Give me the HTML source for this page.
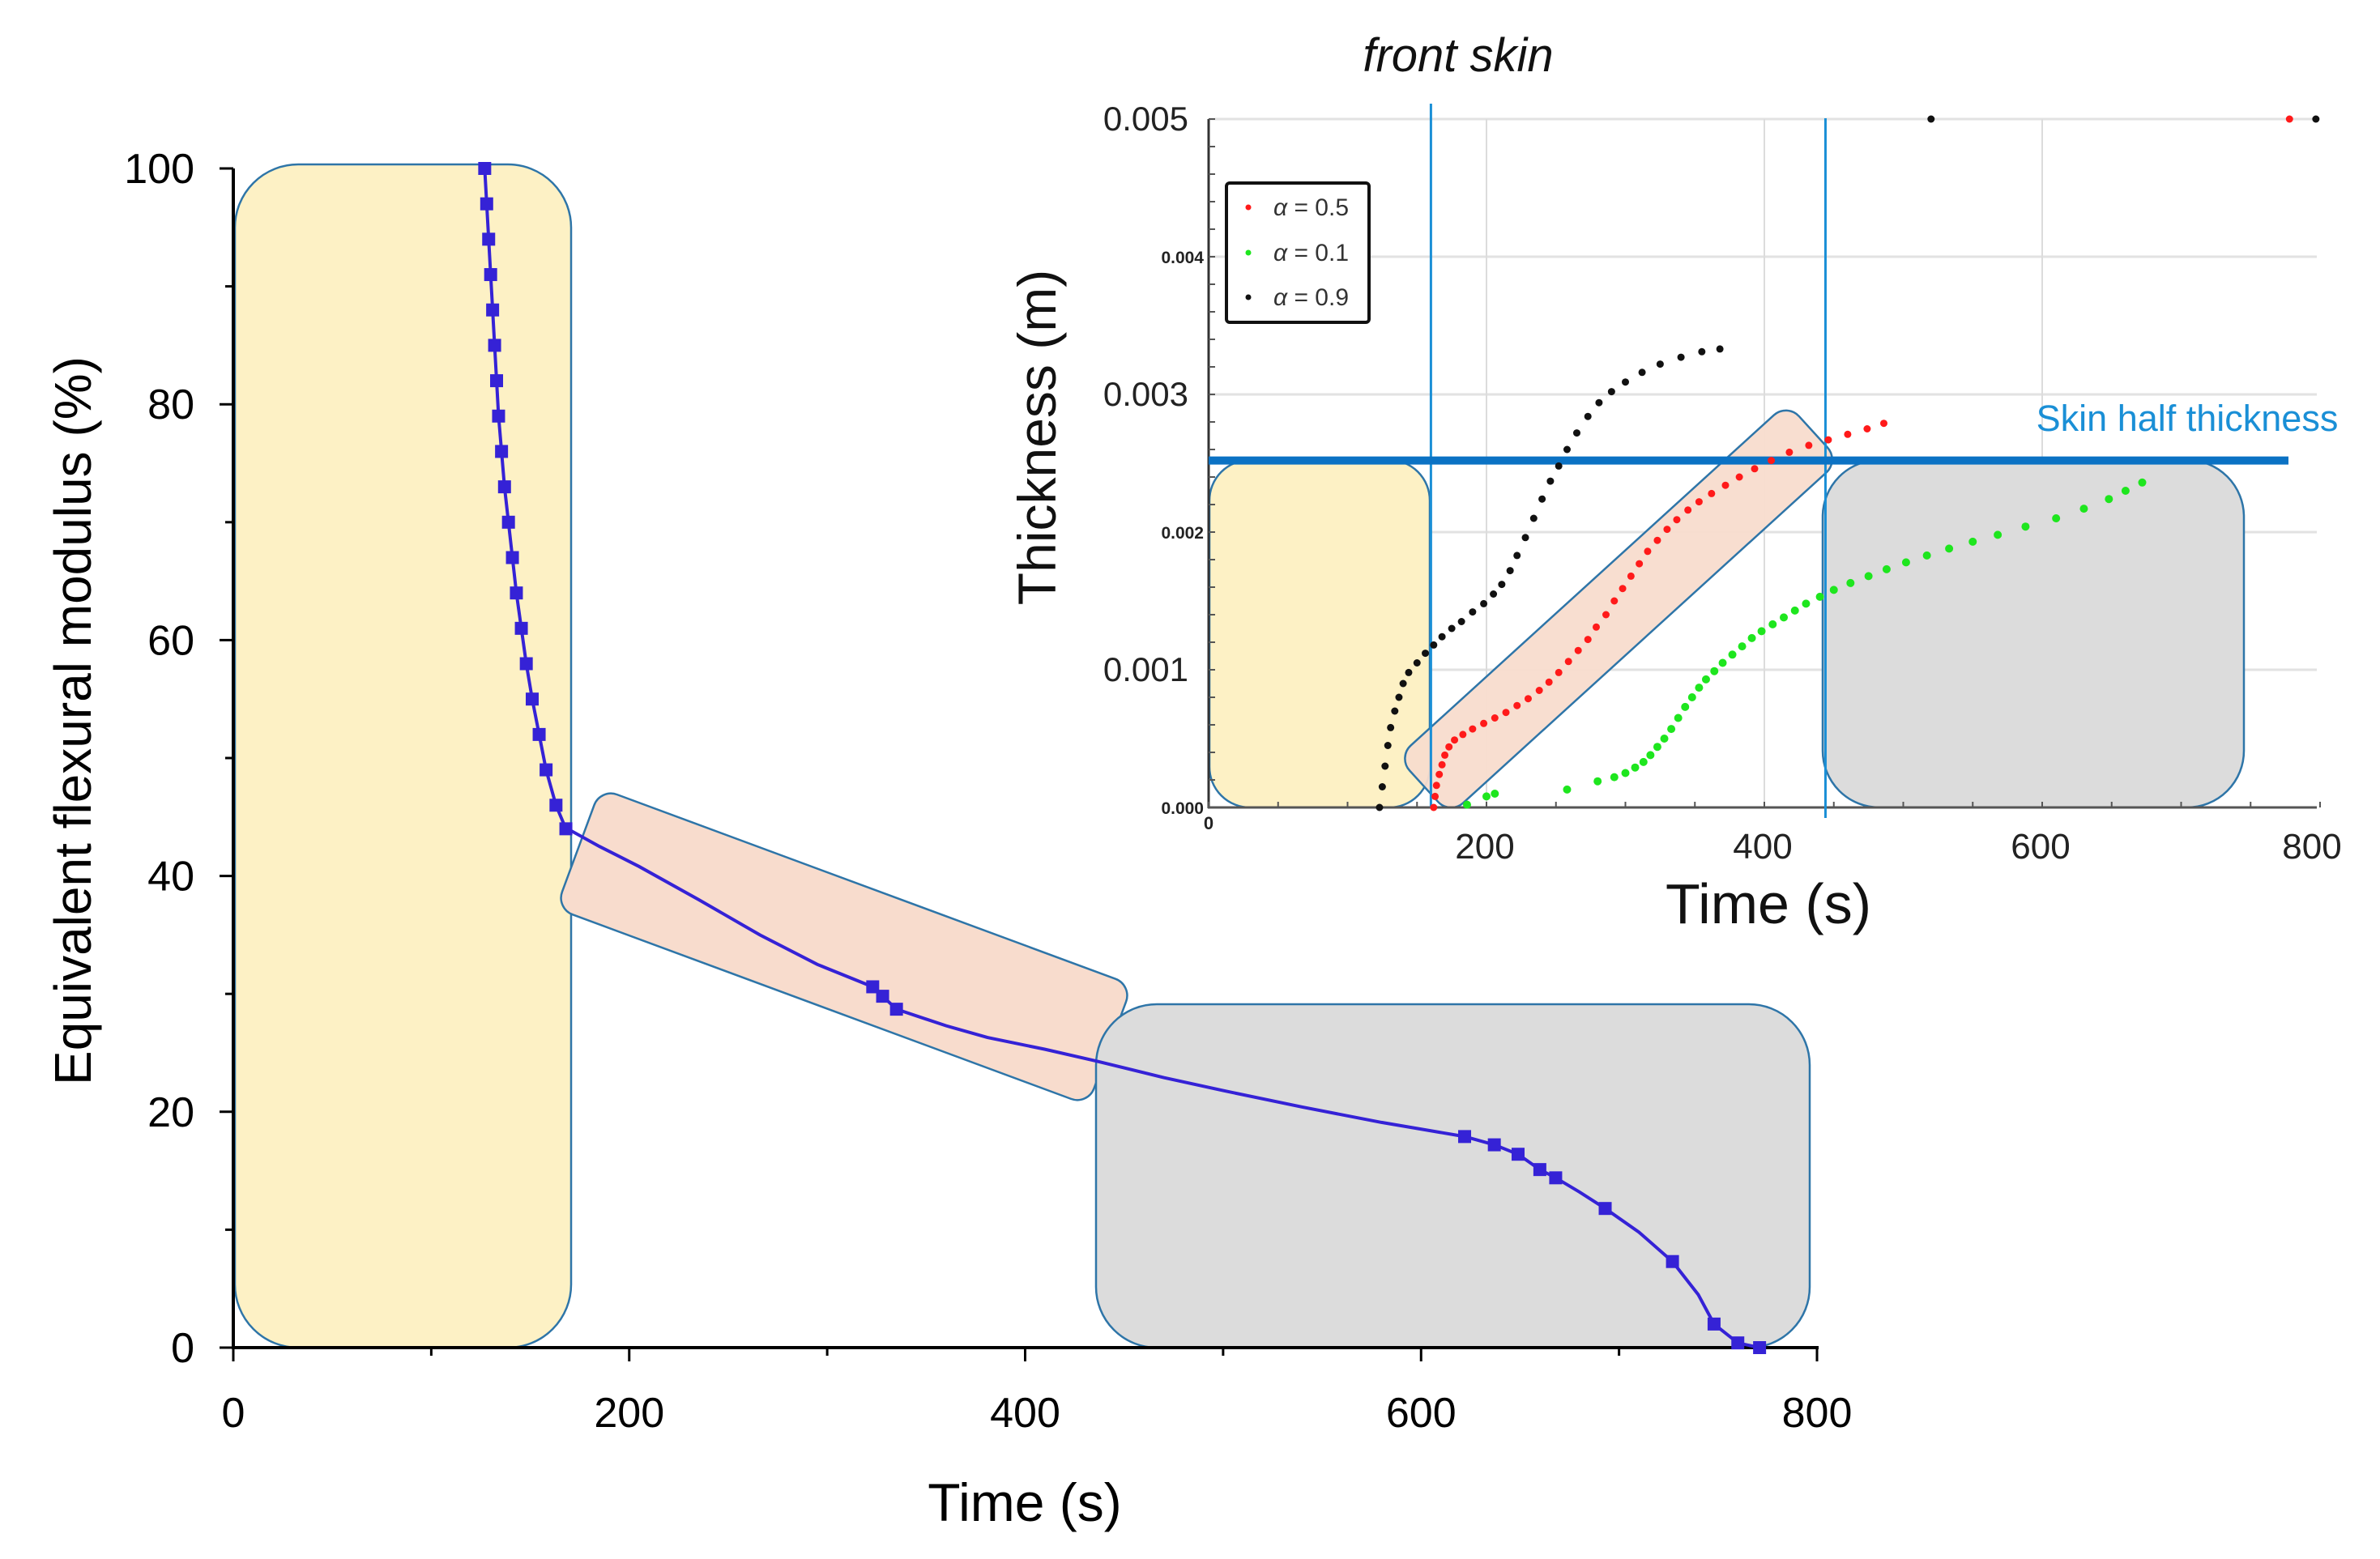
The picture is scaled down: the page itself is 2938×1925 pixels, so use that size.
<!DOCTYPE html>
<html><head><meta charset="utf-8"><style>
html,body{margin:0;padding:0;background:#fff}
svg{display:block}
text{font-family:"Liberation Sans",sans-serif}
</style></head><body>
<svg id="chart" width="2938" height="1925" viewBox="0 0 2938 1925" xmlns="http://www.w3.org/2000/svg">
<g id="main"></g>
<g id="inset"></g>
</svg>
<script>
// ---- main chart data ----
const mainTimes = [127,128,129,130,131,132,133,134,135.5,137,139,141,143,145.5,148,151,154.5,158,163,168,171,185,205,235,266,295,323,328,335,360,381,410,436,470,500,540,580,622,637,649,660,668,680,693,710,727,740,748,760,771];
const mainValues = [100,97,94,91,88,85,82,79,76,73,70,67,64,61,58,55,52,49,46,44,43.8,42.5,40.8,38,35,32.5,30.6,29.8,28.7,27.3,26.3,25.3,24.3,22.9,21.8,20.4,19.1,17.9,17.2,16.4,15.1,14.4,13.2,11.8,9.8,7.3,4.5,2.0,0.4,0];
const mainMarker = [1,1,1,1,1,1,1,1,1,1,1,1,1,1,1,1,1,1,1,1,0,0,0,0,0,0,1,1,1,0,0,0,0,0,0,0,0,1,1,1,1,1,0,1,0,1,0,1,1,1];
const mainXTicks = [0,200,400,600,800];
const mainYTicks = [0,20,40,60,80,100];
// ---- inset data (thickness in mm; axis labels in m) ----
const blackT = [123,125,127,129,131,134,137,140,144,150,156,162,168,175,182,190,198,205,211,217,222,228,234,240,246,252,258,265,273,281,290,300,312,325,340,355,368,520,797];
const blackY = [0,0.15,0.3,0.45,0.58,0.7,0.8,0.9,0.98,1.05,1.12,1.18,1.24,1.3,1.35,1.42,1.48,1.55,1.62,1.72,1.83,1.96,2.1,2.24,2.37,2.48,2.6,2.72,2.84,2.94,3.02,3.09,3.16,3.22,3.27,3.31,3.33,5,5];
const redT = [162,163,164,166,168,170,173,177,183,190,198,206,214,222,230,238,245,252,259,266,273,279,286,292,298,304,310,316,323,330,337,345,353,362,372,382,393,405,418,432,446,460,474,486,778];
const redY = [0,0.08,0.16,0.24,0.31,0.38,0.44,0.49,0.53,0.57,0.61,0.65,0.69,0.74,0.79,0.85,0.91,0.98,1.06,1.14,1.22,1.31,1.4,1.5,1.59,1.68,1.77,1.86,1.94,2.02,2.09,2.16,2.22,2.28,2.34,2.4,2.46,2.52,2.58,2.63,2.67,2.71,2.75,2.79,5];
const greenT = [186,200,206,258,280,292,300,307,313,318,323,328,333,338,343,348,353,358,364,370,377,384,391,398,406,414,422,430,440,450,462,475,488,502,517,533,550,568,588,610,630,648,660,672];
const greenY = [0.02,0.08,0.1,0.13,0.19,0.22,0.25,0.29,0.33,0.38,0.44,0.5,0.57,0.65,0.73,0.8,0.87,0.93,0.99,1.05,1.11,1.17,1.23,1.28,1.33,1.38,1.43,1.48,1.53,1.58,1.63,1.68,1.73,1.78,1.83,1.88,1.93,1.98,2.04,2.1,2.17,2.24,2.3,2.36];
const insetXTicks = [200,400,600,800];
const insetYTicks = [0,1,2,3,4,5];
const insetYLabels = ["0.000","0.001","0.002","0.003","0.004","0.005"];
const skinHalf = 2.52;
const frontLines = [160,444];

const NS="http://www.w3.org/2000/svg";
function mk(parent,tag,attrs){const e=document.createElementNS(NS,tag);for(const k in attrs)e.setAttribute(k,attrs[k]);parent.appendChild(e);return e;}
function txt(parent,x,y,s,attrs){const e=mk(parent,'text',Object.assign({x:x,y:y},attrs));e.textContent=s;return e;}

// ---------- MAIN ----------
const M=document.getElementById('main');
const mx=t=>288+t*(2243-288)/800;
const my=v=>1664-v*(1664-208)/100;
const boxStroke='#2e75a8';
let e;
e=mk(M,'rect',{x:290,y:203,width:415,height:1461,rx:78,fill:'#fdf1c5',stroke:boxStroke,'stroke-width':2.5});


e=mk(M,'rect',{x:1042-350,y:1169-79,width:700,height:158,rx:22,fill:'#f8dccd',stroke:boxStroke,'stroke-width':2.5,transform:'rotate(20.3 1042 1169)'});


e=mk(M,'rect',{x:1353,y:1240,width:881,height:424,rx:75,fill:'#dcdcdc',stroke:boxStroke,'stroke-width':2.5});


// axes
e=mk(M,'line',{x1:288,y1:208,x2:288,y2:1666,stroke:'#000','stroke-width':4});


e=mk(M,'line',{x1:286,y1:1664,x2:2245,y2:1664,stroke:'#000','stroke-width':4});


for(let v=0;v<=100;v+=10){const maj=v%20===0;mk(M,'line',{x1:288-(maj?17:10),y1:my(v),x2:288,y2:my(v),stroke:'#000','stroke-width':3});}
for(let t=0;t<=800;t+=100){const maj=t%200===0;mk(M,'line',{x1:mx(t),y1:1664,x2:mx(t),y2:1664+(maj?17:10),stroke:'#000','stroke-width':3});}
mainYTicks.forEach(v=>{const el=txt(M,240,my(v)+18,String(v),{'font-size':52,'text-anchor':'end',fill:'#000'});

});
mainXTicks.forEach(t=>{const el=txt(M,mx(t),1762,String(t),{'font-size':52,'text-anchor':'middle',fill:'#000'});

});
e=txt(M,1265,1878,'Time (s)',{'font-size':66,'text-anchor':'middle',fill:'#000'});


e=txt(M,0,0,'Equivalent flexural modulus (%)',{'font-size':64,'text-anchor':'middle',fill:'#000',transform:'translate(112 890) rotate(-90)'});


// curve
const pts=mainTimes.map((t,i)=>mx(t)+','+my(mainValues[i])).join(' ');
e=mk(M,'polyline',{points:pts,fill:'none',stroke:'#3522d6','stroke-width':4});


mainTimes.forEach((t,i)=>{if(!mainMarker[i])return;const r=mk(M,'rect',{x:mx(t)-8,y:my(mainValues[i])-8,width:16,height:16,fill:'#3522d6'});

});

// ---------- INSET ----------
const I=document.getElementById('inset');
const ix=t=>1492+t*343/200;
const iy=v=>997-v*170;
// grid
insetYTicks.forEach(v=>{if(v>0)mk(I,'line',{x1:1492,y1:iy(v),x2:2860,y2:iy(v),stroke:'#e2e2e2','stroke-width':3});});
insetXTicks.forEach(t=>{if(t<800)mk(I,'line',{x1:ix(t),y1:iy(5),x2:ix(t),y2:997,stroke:'#dcdcdc','stroke-width':2});});
// regions
e=mk(I,'rect',{x:1493,y:568,width:272,height:429,rx:50,fill:'#fdf1c5',stroke:boxStroke,'stroke-width':2.5});


e=mk(I,'rect',{x:1998-325,y:752-48,width:650,height:96,rx:22,fill:'#f8dccd','fill-opacity':0.95,stroke:boxStroke,'stroke-width':2.5,transform:'rotate(-42.3 1998 752)'});


e=mk(I,'rect',{x:2250,y:568,width:520,height:429,rx:70,fill:'#dcdcdc',stroke:boxStroke,'stroke-width':2.5});


// axes
e=mk(I,'line',{x1:1492,y1:iy(5),x2:1492,y2:998,stroke:'#333','stroke-width':3});


e=mk(I,'line',{x1:1491,y1:997,x2:2860,y2:997,stroke:'#555','stroke-width':3});


for(let v=0;v<=5.001;v+=0.2)mk(I,'line',{x1:1492,y1:iy(v),x2:1500,y2:iy(v),stroke:'#555','stroke-width':2});
for(let t=0;t<=800;t+=50)mk(I,'line',{x1:ix(t),y1:997,x2:ix(t),y2:990,stroke:'#555','stroke-width':2});
insetYTicks.forEach((v,i)=>{const big=(v%2===1)||v===5;const el=txt(I,big?1467:1486,iy(v)+(big?14:8),insetYLabels[i],{'font-size':big?42:21,'font-weight':big?'normal':'bold','text-anchor':'end',fill:'#222'});

});
e=txt(I,1492,1024,'0',{'font-size':22,'font-weight':'bold','text-anchor':'middle',fill:'#222'});


insetXTicks.forEach(t=>{const el=txt(I,ix(t)-(t===800?10:2),1060,String(t),{'font-size':44,'text-anchor':'middle',fill:'#222'});

});
e=txt(I,2183,1140,'Time (s)',{'font-size':70,'text-anchor':'middle',fill:'#111'});


e=txt(I,0,0,'Thickness (m)',{'font-size':66,'text-anchor':'middle',fill:'#111',transform:'translate(1303 540) rotate(-90)'});


e=txt(I,1800,88,'front skin',{'font-size':58,'font-style':'italic','text-anchor':'middle',fill:'#111'});


// blue reference lines
frontLines.forEach((t,i)=>{const el=mk(I,'line',{x1:ix(t),y1:i?146:128,x2:ix(t),y2:i?1010:997,stroke:'#1a8fd6','stroke-width':3});

});
e=mk(I,'line',{x1:1492,y1:iy(skinHalf),x2:2825,y2:iy(skinHalf),stroke:'#0b72c4','stroke-width':10});


e=txt(I,2700,532,'Skin half thickness',{'font-size':45,'text-anchor':'middle',fill:'#1a8fd6'});


// series
function dots(T,Y,color,r,name){T.forEach((t,i)=>{const c=mk(I,'circle',{cx:ix(t),cy:iy(Y[i]),r:r,fill:color});

});}
dots(blackT,blackY,'#111','4.5','alpha-0.9-point');
dots(redT,redY,'#ff1a1a','4.5','alpha-0.5-point');
dots(greenT,greenY,'#1ee61e','5','alpha-0.1-point');
// legend
const L=mk(I,'g',{});


mk(L,'rect',{x:1514,y:226,width:176,height:172,rx:4,fill:'#fff',stroke:'#111','stroke-width':4});
[['#ff1a1a','0.5',256],['#1ee61e','0.1',312],['#111','0.9',367]].forEach(d=>{
const g=mk(L,'g',{});


mk(g,'circle',{cx:1541,cy:d[2],r:3.5,fill:d[0]});
const tt=mk(g,'text',{x:1572,y:d[2]+10,'font-size':30,fill:'#333'});
tt.innerHTML='<tspan font-style="italic">α</tspan> = '+d[1];
});
</script>
</body></html>
